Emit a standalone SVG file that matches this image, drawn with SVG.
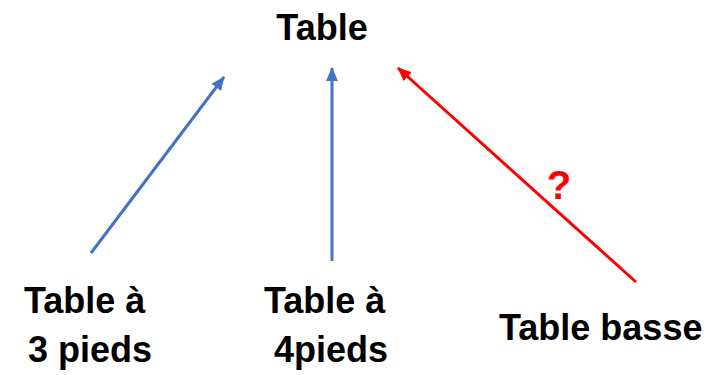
<svg xmlns="http://www.w3.org/2000/svg" width="719" height="375" viewBox="0 0 719 375">
<defs>
<style>
.t{font-family:"Liberation Sans",Arial,sans-serif;font-weight:bold;font-size:36px;fill:#000}
.b{stroke:#4472C4;stroke-width:3;fill:none}
.r{stroke:#FF0000;stroke-width:3;fill:none}
</style>
<marker id="ab" markerUnits="userSpaceOnUse" markerWidth="14" markerHeight="12" refX="13" refY="6" orient="auto"><path d="M0,0 L14,6 L0,12 Z" fill="#4472C4"/></marker>
<marker id="ar" markerUnits="userSpaceOnUse" markerWidth="14" markerHeight="12" refX="13" refY="6" orient="auto"><path d="M0,0 L14,6 L0,12 Z" fill="#FF0000"/></marker>
</defs>
<rect width="719" height="375" fill="#fff"/>
<g id="connectors">
<line class="b" x1="91" y1="253" x2="224" y2="77" marker-end="url(#ab)"/>
<line class="b" x1="332" y1="261" x2="332" y2="68" marker-end="url(#ab)"/>
<line class="r" x1="636" y1="282" x2="398" y2="68" marker-end="url(#ar)"/>
<text x="559" y="199" text-anchor="middle" style="font-family:'Liberation Sans',Arial,sans-serif;font-weight:bold;font-size:40px;fill:#FF0000">?</text>
</g>
<g id="table"><text class="t" x="322" y="40" text-anchor="middle">Table</text></g>
<g id="table3"><text class="t" x="24" y="313">Table à</text><text class="t" x="28" y="362">3 pieds</text></g>
<g id="table4"><text class="t" x="264" y="313">Table à</text><text class="t" x="274" y="362">4pieds</text></g>
<g id="tablebasse"><text class="t" x="499" y="340">Table basse</text></g>
</svg>
